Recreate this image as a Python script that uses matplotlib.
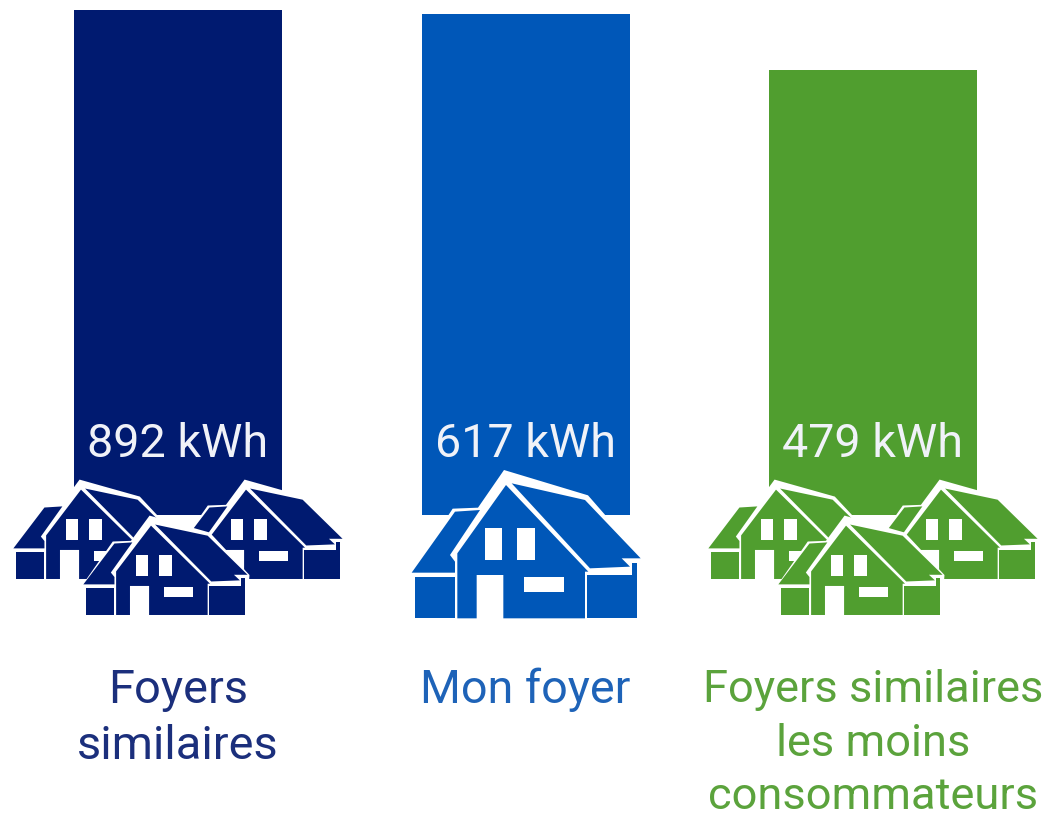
import matplotlib
matplotlib.use("Agg")
import matplotlib.pyplot as plt
from matplotlib.patches import Polygon, Rectangle

plt.rcParams['font.family'] = ['Roboto', 'DejaVu Sans']

categories = ["Foyers\nsimilaires", "Mon foyer", "Foyers similaires\nles moins\nconsommateurs"]
values = [892, 617, 479]
# bar heights as drawn in the picture, they do not follow the values
bar_heights = [505, 501, 445]
colors = ["#001A70", "#0057B8", "#509E2F"]
text_colors = ["#1B2F7C", "#1E63B8", "#5BA33C"]
centers = [178, 525.5, 873]
label_sizes = [33.8, 33.7, 32.6]
label_first = [703, 703, 702]
label_step = [56, 56, 53.5]

# house shape, coordinates from the zoomed icon
outline = [(30, 342), (158, 146), (234, 143), (312, 30), (564, 106), (730, 296),
           (718, 478), (42, 478)]
pieces = [
    [(35, 338), (165, 155), (240, 150), (150, 285), (165, 305), (165, 338)],
    [(172, 280), (318, 75), (565, 335), (555, 335), (555, 475), (310, 475),
     (310, 345), (230, 345), (230, 475), (172, 475)],
    [(335, 70), (555, 120), (722, 295), (665, 295), (690, 320), (570, 325)],
    [(45, 352), (165, 352), (165, 475), (45, 475)],
    [(560, 345), (695, 345), (695, 310), (712, 310), (712, 475), (560, 475)],
]
windows = [(255, 205, 50, 95), (350, 205, 55, 95), (372, 350, 120, 45)]


def draw_house(ax, x0, y0, sx, sy, color):
    def conv(pts):
        return [(x0 + px * sx / 3, y0 + py * sy / 3) for px, py in pts]

    ax.add_patch(Polygon(conv(outline), fc="white", ec="none", zorder=3))
    for p in pieces:
        ax.add_patch(Polygon(conv(p), fc=color, ec="none", zorder=3))
    for wx, wy, ww, wh in windows:
        ax.add_patch(Rectangle((x0 + wx * sx / 3, y0 + wy * sy / 3), ww * sx / 3, wh * sy / 3,
                               fc="white", ec="none", zorder=3))


fig = plt.figure(figsize=(10.52, 8.13), dpi=100)
ax = fig.add_axes([0, 0, 1, 1])
ax.set_xlim(0, 1052)
ax.set_ylim(813, 0)
ax.axis("off")

ax.bar(centers, bar_heights, width=208, bottom=[515 - h for h in bar_heights],
       color=colors, zorder=2)

for i in range(3):
    ax.text(centers[i], 457, f"{values[i]} kWh", color="#F0F2F8", fontsize=33.6,
            ha="center", va="baseline", zorder=4)
    lines = categories[i].split("\n")
    for j, line in enumerate(lines):
        ax.text(centers[i], label_first[i] + j * label_step[i], line, color=text_colors[i],
                fontsize=label_sizes[i], ha="center", va="baseline")

# three small houses for the groups, one big for my home
for shift, color in [(0, colors[0]), (695, colors[2])]:
    draw_house(ax, 5 + shift, 472.9, 0.717, 0.67, color)
    draw_house(ax, 170 + shift, 472.9, 0.717, 0.67, color)
    draw_house(ax, 75 + shift, 508.9, 0.717, 0.67, color)
draw_house(ax, 400, 460, 1, 1, colors[1])

fig.savefig("out.png", dpi=100)
